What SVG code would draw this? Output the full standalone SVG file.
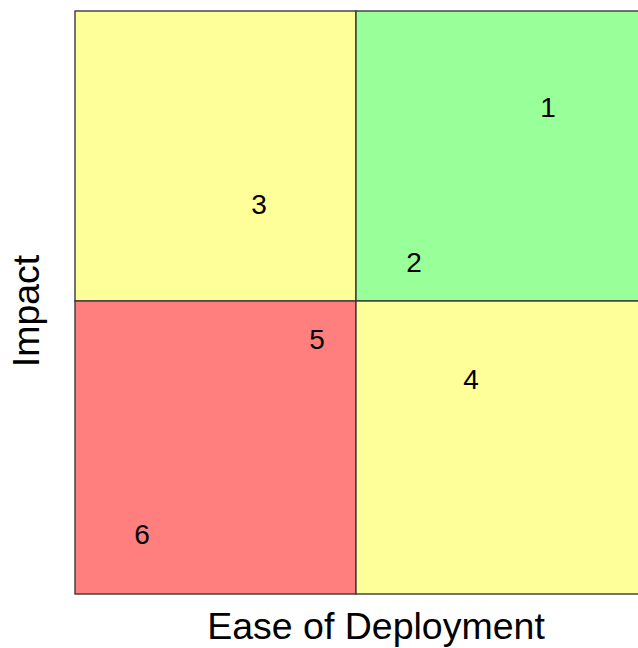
<svg xmlns="http://www.w3.org/2000/svg" width="638" height="648" viewBox="0 0 638 648">
  <style>
    .quad { stroke: #3a3a3a; stroke-width: 1.4; }
    .yellow { fill: #FFFF99; }
    .green { fill: #99FF99; }
    .red { fill: #FF7F7F; }
    .num { font-family: "Liberation Sans", Arial, sans-serif; font-size: 28px; fill: #000; text-anchor: middle; }
    .axis { font-family: "Liberation Sans", Arial, sans-serif; font-size: 37.5px; fill: #000; text-anchor: middle; }
  </style>
  <rect width="638" height="648" fill="#ffffff"/>

  <!-- quadrants of the impact / ease matrix -->
  <g id="quadrant-top-left"><rect class="quad yellow" x="75" y="11" width="281" height="290"/></g>
  <g id="quadrant-top-right"><rect class="quad green" x="356" y="11" width="290" height="290"/></g>
  <g id="quadrant-bottom-left"><rect class="quad red" x="75" y="301" width="281" height="293"/></g>
  <g id="quadrant-bottom-right"><rect class="quad yellow" x="356" y="301" width="290" height="293"/></g>

  <g id="connectors"></g>

  <!-- plotted items -->
  <g id="item-1"><text class="num" x="548" y="117">1</text></g>
  <g id="item-2"><text class="num" x="414" y="272">2</text></g>
  <g id="item-3"><text class="num" x="259" y="214">3</text></g>
  <g id="item-4"><text class="num" x="471" y="389">4</text></g>
  <g id="item-5"><text class="num" x="317" y="349">5</text></g>
  <g id="item-6"><text class="num" x="142" y="544">6</text></g>

  <!-- axis titles -->
  <g id="axis-x"><text class="axis" x="376" y="639">Ease of Deployment</text></g>
  <g id="axis-y"><text class="axis" transform="translate(39 311) rotate(-90)" x="0" y="0">Impact</text></g>
</svg>
